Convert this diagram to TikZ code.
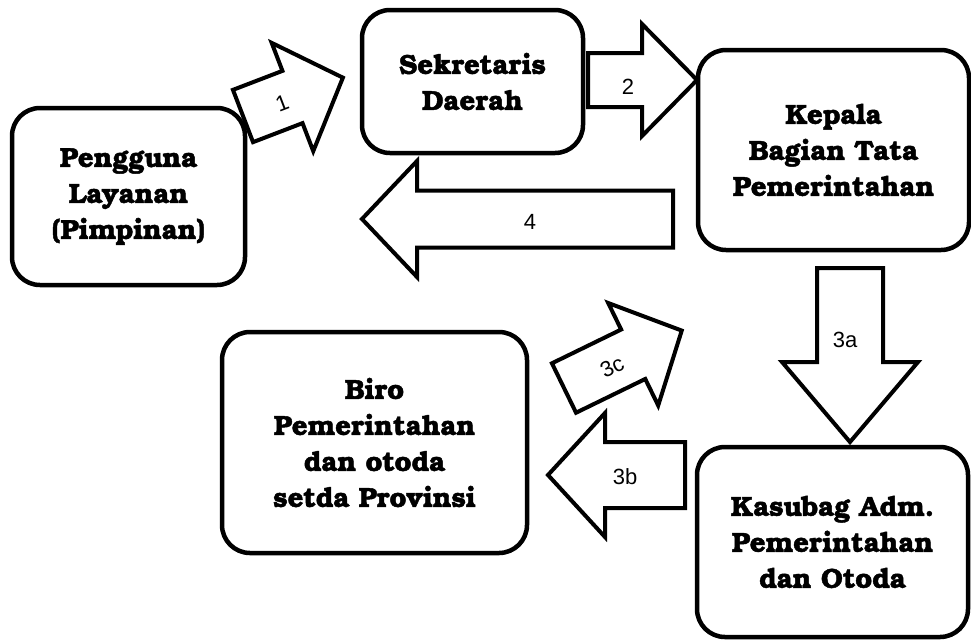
\documentclass[tikz,border=0pt]{standalone}
\usepackage{fontspec}
\newfontfamily\boxfont{TeX Gyre Bonum}[BoldFeatures={FakeBold=1.6}]
\newfontfamily\lblfont{Liberation Sans}
\newcommand\blockarrow[8]{%
  \begin{scope}[shift={(#1,#2)}, rotate=#3]
    \draw[barrow] (0,-#5) -- ({#4-#7},-#5) -- ({#4-#7},-#6) -- (#4,0)
      -- ({#4-#7},#6) -- ({#4-#7},#5) -- (0,#5) -- cycle;
    \coordinate (#8) at ({#4/2},0);
  \end{scope}}
\begin{document}
\begin{tikzpicture}[x=1pt,y=-1pt,
  box/.style={draw=black, line width=4.5pt, rounded corners=28pt, fill=white,
    align=center, inner sep=0pt,
    font=\boxfont\bfseries\fontsize{27.5}{36}\selectfont},
  lbl/.style={font=\lblfont\fontsize{22}{24}\selectfont, inner sep=0pt},
  barrow/.style={draw=black, line width=4pt, fill=white, line join=miter}]
\useasboundingbox (0,0) rectangle (971,641);
\begin{scope}
\clip (0,0) rectangle (971,641);
% boxes
\node[box, minimum width=233pt, minimum height=177pt] (pengguna) at (128.5,196.5)
  {Pengguna\\Layanan\\(Pimpinan)};
\node[box, minimum width=221pt, minimum height=143pt] (sekda) at (472.5,81.5)
  {Sekretaris\\Daerah};
\node[box, minimum width=271pt, minimum height=200pt] (kabag) at (833.5,150)
  {Kepala\\Bagian Tata\\Pemerintahan};
\node[box, minimum width=305pt, minimum height=221pt] (biro) at (374.5,442.5)
  {Biro\\Pemerintahan\\dan otoda\\setda Provinsi};
\node[box, minimum width=271pt, minimum height=190pt] (kasubag) at (832.5,542)
  {Kasubag Adm.\\Pemerintahan\\dan Otoda};
% block arrows: x y angle length shafthalf headhalf headlen name
\blockarrow{243}{116}{21}{107}{28}{58}{54}{a1}
\blockarrow{588}{80}{0}{109}{27}{56}{55}{a2}
\blockarrow{673}{219}{180}{311}{28.5}{58}{55}{a4}
\blockarrow{850}{268}{-90}{174}{33}{68}{80}{a3a}
\blockarrow{564}{388}{26}{131}{27.5}{57}{54}{a3c}
\blockarrow{685}{475}{180}{137}{33}{62}{57}{a3b}
% labels
\node[lbl, rotate=21] (l1) at (282,103) {1};
\node[lbl] (l2) at (628,87) {2};
\node[lbl] (l4) at (530,222) {4};
\node[lbl] (l3a) at (845,340) {3a};
\node[lbl, rotate=26] (l3c) at (612,367) {3c};
\node[lbl] (l3b) at (625,477) {3b};
\end{scope}
\end{tikzpicture}
\end{document}
